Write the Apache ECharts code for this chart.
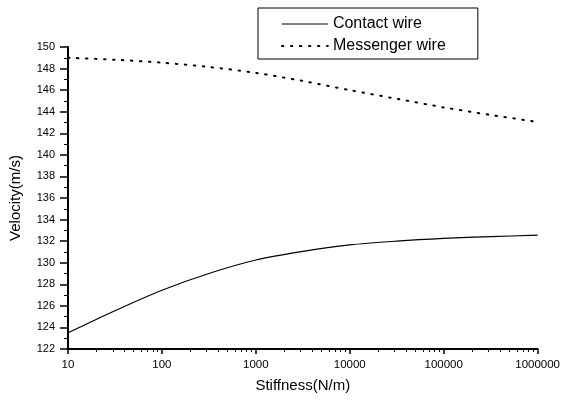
<!DOCTYPE html>
<html>
<head>
<meta charset="utf-8">
<script src="https://cdn.jsdelivr.net/npm/echarts@6/dist/echarts.min.js"></script>
<style>html,body{margin:0;padding:0;background:#fff;}#c{width:563px;height:401px;}</style>
</head>
<body>
<div id="c"></div>
<script>
const stiffness = [10, 31.6, 100, 316, 1000, 3162, 10000, 31623, 100000, 316228, 1000000];
const contactWire = [123.5, 125.55, 127.45, 129.0, 130.25, 131.05, 131.65, 132.0, 132.25, 132.42, 132.55];
const messengerWire = [149.0, 148.82, 148.55, 148.15, 147.6, 146.85, 146.0, 145.2, 144.4, 143.7, 143.05];
const xTickLabels = ['10', '100', '1000', '10000', '100000', '1000000'];
const xMinorTicks = [20,30,40,50,60,70,80,90,200,300,400,500,600,700,800,900,2000,3000,4000,5000,6000,7000,8000,9000,20000,30000,40000,50000,60000,70000,80000,90000,200000,300000,400000,500000,600000,700000,800000,900000];
const seriesNames = ['Contact wire', 'Messenger wire'];

const FONT = '"Liberation Sans", Arial, sans-serif';
const chart = echarts.init(document.getElementById('c'), null, {renderer: 'canvas'});
chart.setOption({
  animation: false,
  backgroundColor: '#fff',
  grid: {left: 68, right: 23, top: 47, bottom: 52},
  legend: {
    show: true,
    left: 258, top: 8,
    orient: 'vertical',
    data: [
      {name: seriesNames[0], lineStyle: {width: 1, color: '#000'}},
      {name: seriesNames[1], lineStyle: {width: 1.8, color: '#000'}}
    ],
    borderColor: '#000', borderWidth: 1,
    padding: [8, 32, 5, 23],
    itemWidth: 46, itemHeight: 14, itemGap: 6,
    itemStyle: {opacity: 0},
    textStyle: {fontFamily: FONT, fontSize: 16, color: '#000'}
  },
  xAxis: [{
    type: 'log', logBase: 10, min: 10, max: 1000000,
    name: 'Stiffness(N/m)', nameLocation: 'middle', nameGap: 29,
    nameTextStyle: {fontFamily: FONT, fontSize: 15, color: '#000'},
    axisLine: {lineStyle: {color: '#000', width: 2}},
    axisTick: {inside: false, length: 5, lineStyle: {color: '#000', width: 1.5}},
    axisLabel: {fontFamily: FONT, fontSize: 11.5, color: '#000', margin: 10,
      formatter: v => { const i = Math.round(Math.log10(v)) - 1; return xTickLabels[i] || ''; }},
    splitLine: {show: false}
  }, {
    type: 'log', logBase: 10, min: 10, max: 1000000, position: 'bottom',
    axisLine: {show: false},
    axisTick: {show: true, length: 3, customValues: xMinorTicks, lineStyle: {color: '#000', width: 1}},
    axisLabel: {show: false},
    splitLine: {show: false}
  }],
  yAxis: {
    type: 'value', min: 122, max: 150, interval: 2,
    name: 'Velocity(m/s)', nameLocation: 'middle', nameGap: 45,
    nameTextStyle: {fontFamily: FONT, fontSize: 15, color: '#000'},
    axisLine: {show: true, lineStyle: {color: '#000', width: 2}},
    axisTick: {show: true, inside: false, length: 8, lineStyle: {color: '#000', width: 1.5}},
    minorTick: {show: true, splitNumber: 2, length: 4, lineStyle: {color: '#000', width: 1}},
    axisLabel: {fontFamily: FONT, fontSize: 11, color: '#000', margin: 13},
    splitLine: {show: false}
  },
  series: [{
    name: seriesNames[0], type: 'line', smooth: 0.3, symbol: 'none',
    data: stiffness.map((x, i) => [x, contactWire[i]]),
    lineStyle: {color: '#000', width: 1.2, type: 'solid'},
    itemStyle: {color: '#000'}
  }, {
    name: seriesNames[1], type: 'line', smooth: 0.3, symbol: 'none',
    data: stiffness.map((x, i) => [x, messengerWire[i]]),
    lineStyle: {color: '#000', width: 2, type: [1.5, 7.5], cap: 'round'},
    itemStyle: {color: '#000'}
  }]
});
</script>
</body>
</html>
